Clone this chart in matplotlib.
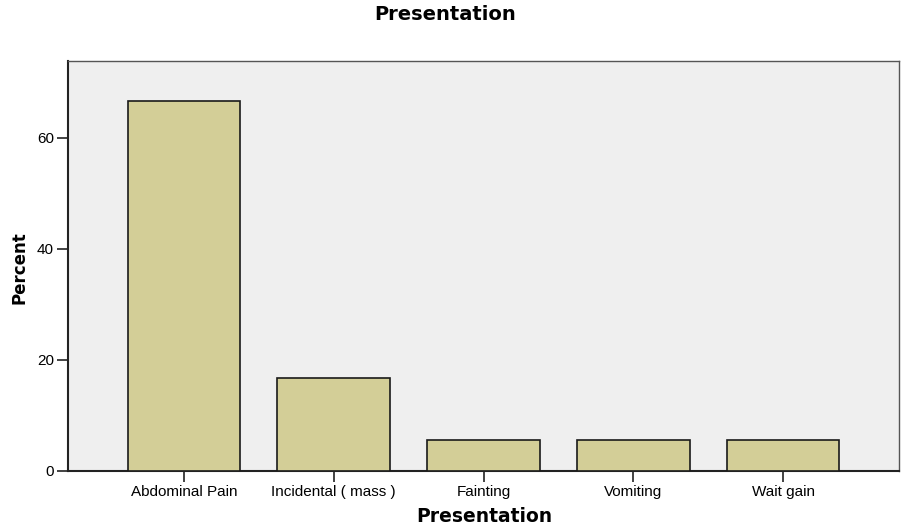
import matplotlib
matplotlib.use('Agg')
import matplotlib.pyplot as plt
import numpy as np

categories = ['Abdominal Pain', 'Incidental ( mass )', 'Fainting', 'Vomiting', 'Wait gain']
percent = [66.67, 16.67, 5.56, 5.56, 5.56]
yticks = [0, 20, 40, 60]

fig = plt.figure(figsize=(9.03, 5.29), dpi=100)
ax = fig.add_axes([68 / 903, 58 / 529, 831 / 903, 410 / 529])

x = np.arange(len(categories))
ax.bar(x, percent, width=0.75, color='#d3ce97', edgecolor='#1a1a1a', linewidth=1.2, zorder=3)

ax.set_facecolor('#efefef')
ax.set_xlim(-0.773, len(categories) - 1 + 0.773)
ax.set_ylim(0, 73.8)

ax.set_xticks(x)
ax.set_xticklabels(categories, family='Liberation Sans', fontsize=11)
ax.set_yticks(yticks)
ax.set_yticklabels([str(t) for t in yticks], family='Liberation Sans', fontsize=11)
ax.tick_params(axis='both', direction='out', length=8, width=1.2, color='#222222', pad=2)

for side in ['left', 'bottom']:
    ax.spines[side].set_color('#222222')
    ax.spines[side].set_linewidth(1.5)
for side in ['top', 'right']:
    ax.spines[side].set_color('#555555')
    ax.spines[side].set_linewidth(1.0)

# axis titles placed like the SPSS output
fig.text(484 / 903, 1 - 516 / 529, 'Presentation', ha='center', va='center',
         fontsize=13.5, fontweight='bold', family='DejaVu Sans')
fig.text(20 / 903, 1 - 268 / 529, 'Percent', ha='center', va='center', rotation=90,
         fontsize=12, fontweight='bold', family='DejaVu Sans')
fig.text(445 / 903, 1 - 14 / 529, 'Presentation', ha='center', va='center',
         fontsize=14, fontweight='bold', family='DejaVu Sans')

fig.savefig('out.png', dpi=100)
